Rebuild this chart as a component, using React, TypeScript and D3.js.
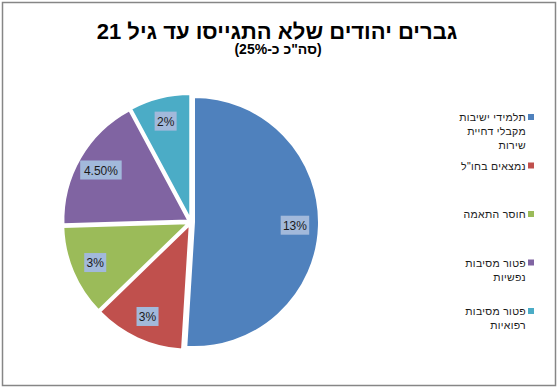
import * as d3 from "d3";

const categories = [
  "תלמידי ישיבות מקבלי דחיית שירות",
  'נמצאים בחו"ל',
  "חוסר התאמה",
  "פטור מסיבות נפשיות",
  "פטור מסיבות רפואיות",
];
// legend text as it wraps in the original
const legendLines = [
  ["תלמידי ישיבות", "מקבלי דחיית", "שירות"],
  ['נמצאים בחו"ל'],
  ["חוסר התאמה"],
  ["פטור מסיבות", "נפשיות"],
  ["פטור מסיבות", "רפואיות"],
];
const values = [13, 3, 3, 4.5, 2];
const valueLabels = ["13%", "3%", "3%", "4.50%", "2%"];
const colors = ["#4F81BD", "#C0504D", "#9BBB59", "#8064A2", "#4BACC6"];

const title = "גברים יהודים שלא התגייסו עד גיל 21";
const subtitle = '(סה"כ כ-25%)';

const width = 559;
const height = 389;
const font = "Arial, 'Liberation Sans', 'DejaVu Sans', sans-serif";

export default function App() {
  const cx = 191;
  const cy = 222;
  const radius = 125;
  const explode = 3;
  const labelR = 104;

  const pie = d3.pie<number>().sort(null).value(d => d);
  const arcs = pie(values);
  const arc = d3.arc<d3.PieArcDatum<number>>().innerRadius(0).outerRadius(radius);

  const legendY = d3.scalePoint<number>()
    .domain(d3.range(categories.length))
    .range([117, 311]);

  return (
    <div style={{ position: "absolute", left: 0, top: 0 }}>
      <svg width={width} height={height} style={{ display: "block", fontFamily: font }}>
        <rect x={0} y={0} width={width} height={height} fill="#fff" />
        <rect x={2.5} y={2.5} width={553} height={383} fill="none" stroke="#868686" strokeWidth={1.5} />

        <text x={277} y={39} textAnchor="middle" direction="rtl" fontSize={22} fontWeight="bold" fill="#000">
          {title}
        </text>
        <text x={278} y={54} textAnchor="middle" direction="rtl" fontSize={14} fontWeight="bold" fill="#000">
          {subtitle}
        </text>

        <g transform={`translate(${cx},${cy})`}>
          {arcs.map((a, i) => {
            const mid = (a.startAngle + a.endAngle) / 2;
            const dx = Math.sin(mid) * explode;
            const dy = -Math.cos(mid) * explode;
            return (
              <path
                key={categories[i]}
                d={arc(a) || ""}
                transform={`translate(${dx},${dy})`}
                fill={colors[i]}
                stroke="#fff"
                strokeWidth={2}
              />
            );
          })}
          {arcs.map((a, i) => {
            const mid = (a.startAngle + a.endAngle) / 2;
            const lx = Math.sin(mid) * labelR;
            const ly = -Math.cos(mid) * labelR;
            const w = valueLabels[i].length * 6.5 + 9;
            const h = 19;
            return (
              <g key={"l" + i} transform={`translate(${lx},${ly})`}>
                <rect x={-w / 2} y={-h / 2} width={w} height={h} fill="#A2B9DB" />
                <text y={4.5} textAnchor="middle" fontSize={12} fill="#1a1a1a">
                  {valueLabels[i]}
                </text>
              </g>
            );
          })}
        </g>

        <g>
          {legendLines.map((lines, i) => {
            const y = legendY(i) as number;
            return (
              <g key={categories[i]}>
                <rect x={528} y={y - 3} width={6} height={6} fill={colors[i]} />
                {lines.map((ln, j) => (
                  <text
                    key={j}
                    x={526}
                    y={y + 4 + j * 14}
                    textAnchor="end"
                    fontSize={10.5}
                    letterSpacing={0.3}
                    fill="#1a1a1a"
                  >
                    {ln}
                  </text>
                ))}
              </g>
            );
          })}
        </g>
      </svg>
    </div>
  );
}
